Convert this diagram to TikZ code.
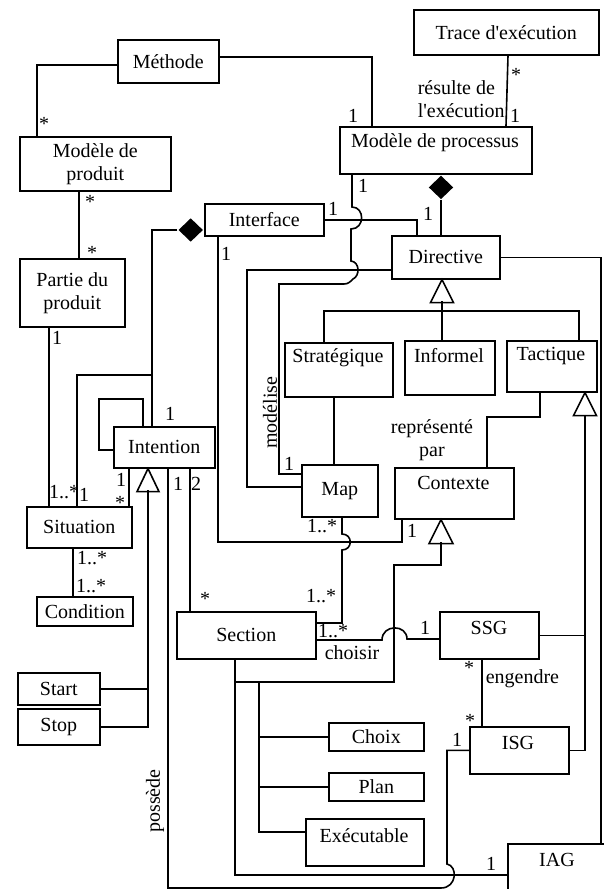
\documentclass[tikz,border=0pt]{standalone}
\usepackage{fontspec}
\setmainfont{Liberation Serif}
\usetikzlibrary{shapes.geometric}
\begin{document}
\begin{tikzpicture}[x=1pt,y=-1pt,
  font=\fontsize{20}{23}\selectfont,
  line width=1.6pt,
  box/.style={draw, inner sep=0pt, anchor=north west, align=center},
  txt/.style={inner sep=0pt, align=center},
  lab/.style={inner sep=0pt, anchor=base},
  gen/.style={draw, fill=white, line join=miter},
  comp/.style={diamond, fill=black, inner sep=0pt, minimum width=25pt, minimum height=24pt}]
\useasboundingbox (0,0) rectangle (603,889);

% boxes
\node[box, minimum width=101pt, minimum height=43pt] (meth) at (117,39) {Méthode};
\node[box, minimum width=185pt, minimum height=45pt] (trace) at (413,9) {Trace d\textquotesingle exécution};
\node[box, minimum width=151pt, minimum height=54pt] (mprod) at (19,136) {Modèle de\\produit};
\node[box, minimum width=192pt, minimum height=47pt] (mproc) at (339,126) {};
\node[txt] (mprocT) at (435,143) {Modèle de processus};
\node[box, minimum width=105pt, minimum height=68pt] (partie) at (19,258) {Partie du\\produit};
\node[box, minimum width=119pt, minimum height=32pt] (iface) at (204,203) {Interface};
\node[box, minimum width=108pt, minimum height=43pt] (direct) at (391,235) {Directive};
\node[box, minimum width=108pt, minimum height=54pt] (strat) at (284,342) {};
\node[txt] (stratT) at (338,358) {Stratégique};
\node[box, minimum width=90pt, minimum height=54pt] (infor) at (404,340) {};
\node[txt] (inforT) at (449,356) {Informel};
\node[box, minimum width=90pt, minimum height=51pt] (tact) at (506,340) {};
\node[txt] (tactT) at (551,356) {Tactique};
\node[box, minimum width=101pt, minimum height=41pt] (intent) at (113,426) {Intention};
\node[box, minimum width=105pt, minimum height=41pt] (situ) at (26,506) {Situation};
\node[box, minimum width=96pt, minimum height=29pt] (cond) at (36,596) {Condition};
\node[box, minimum width=76pt, minimum height=52pt] (map) at (301,464) {Map};
\node[box, minimum width=119pt, minimum height=51pt] (ctx) at (394,467) {};
\node[txt] (ctxT) at (453.5,483) {Contexte};
\node[box, minimum width=139pt, minimum height=47pt] (section) at (176,611) {Section};
\node[box, minimum width=99pt, minimum height=47pt] (ssg) at (439,611) {};
\node[txt] (ssgT) at (489,628) {SSG};
\node[box, minimum width=99pt, minimum height=47pt] (isg) at (469,726) {};
\node[txt] (isgT) at (518,743) {ISG};
\node[box, minimum width=95pt, minimum height=28pt] (choix) at (328,722) {Choix};
\node[box, minimum width=95pt, minimum height=28pt] (plan) at (328,772) {Plan};
\node[box, minimum width=118pt, minimum height=47pt] (exec) at (305,818) {};
\node[txt] (execT) at (364,836) {Exécutable};
\node[box, minimum width=82pt, minimum height=32pt] (start) at (17,672) {Start};
\node[box, minimum width=82pt, minimum height=36pt] (stop) at (17,708) {Stop};
\node[box, minimum width=110pt, minimum height=60pt] (iag) at (507,843) {};
\node[txt] (iagT) at (557,860) {IAG};

% Méthode associations
\draw (meth.west |- 0,65) -| (mprod.north -| 37,0);
\draw (meth.east |- 0,57) -| (mproc.north -| 372,0);
\draw (trace.south -| 508,0) -- (mproc.north -| 506,0);
\draw (mprod.south -| 79,0) -- (partie.north -| 79,0);

% composition Modèle de processus - Directive
\node[comp, anchor=north] (dm1) at (mproc.south -| 441,0) {};
\draw (dm1.south) -- (direct.north -| dm1.south);

% Interface - Directive
\draw (iface.east) -| (direct.north -| 417,0);

% composition Interface - Intention, Situation
\node[comp, anchor=east] (dm2) at (iface.west |- 0,230) {};
\draw (dm2.west) -| (intent.north -| 152,0);
\coordinate (j1) at (152,375);
\draw (j1) -| (situ.north -| 77,0);

% Partie du produit - Situation
\draw (partie.south -| 49,0) -- (situ.north -| 49,0);

% Intention self loop
\draw (intent.north -| 143,0) |- (99,399) |- (intent.west |- 0,450);

% Intention - Situation
\draw (intent.south -| 129,0) -- (situ.north -| 129,0);

% Intention generalisation (Start, Stop)
\draw[gen] (intent.south -| 148,0) -- ++(11,23) -- ++(-22,0) -- cycle;
\coordinate (t1b) at (148,490);
\draw (t1b) |- (stop.east);
\draw (start.east) -- (start.east -| t1b);

% possède : Intention - ISG
\draw (intent.south -| 168,0) -- (168,888) -- (441,888)
  .. controls (457,888) and (458,866) .. (447,864) -- (isg.west -| 447,0) -- (isg.west);

% Intention - Section
\draw (intent.south -| 190,0) -- (section.north -| 190,0);

% Situation - Condition
\draw (situ.south -| 73,0) -- (cond.north -| 73,0);

% Interface - Contexte
\draw (iface.south -| 218,0) |- (402,542) -- (ctx.south -| 402,0);

% Directive - Map
\draw (direct.west |- 0,270) -| (247,487) -- (map.west |- 0,487);

% modélise : Modèle de processus - Map
\draw (mproc.south -| 352,0) -- (352,207)
  .. controls (365,207) and (365,229) .. (351,229) -- (351,261)
  .. controls (360,262) and (360,276) .. (353,279)
  .. controls (350,282) and (348,284) .. (344,284) -- (279,284) |- (map.west |- 0,474);

% Directive generalisation
\draw[gen] (direct.south -| 442,0) -- ++(11.5,23) -- ++(-23,0) -- cycle;
\coordinate (t2b) at (442,301);
\draw (t2b) -- (infor.north -| t2b);
\draw (strat.north -| 324,0) |- (579,311) -- (tact.north -| 579,0);

% Stratégique - Map
\draw (strat.south -| 334,0) -- (map.north -| 334,0);

% représenté par : Tactique - Contexte
\draw (tact.south -| 540,0) |- (487,417) -- (ctx.north -| 487,0);

% Tactique generalisation (SSG, ISG)
\draw[gen] (tact.south -| 585,0) -- ++(11.5,23) -- ++(-23,0) -- cycle;
\coordinate (t3b) at (585,415);
\draw (t3b) |- (isg.east);
\draw (ssg.east) -- (ssg.east -| t3b);

% Directive - IAG
\draw (direct.east) -| (iag.north -| 601,0);

% Contexte generalisation (Choix, Plan, Exécutable)
\draw[gen] (ctx.south -| 441,0) -- ++(12,24) -- ++(-24,0) -- cycle;
\coordinate (t4b) at (441,542);
\draw (t4b) |- (394,565) -- (394,682) -- (235,682);
\coordinate (j2) at (259,682);
\draw (j2) |- (exec.west |- 0,832);
\draw (choix.west -| j2) -- (choix.west);
\draw (plan.west -| j2) -- (plan.west);

% Section - Map
\draw (section.east |- 0,623) -- (342,623) -- (342,550)
  .. controls (353,550) and (353,534) .. (342,534) -- (map.south -| 342,0);

% choisir : Section - SSG
\draw (section.east |- 0,640) -- (382,640)
  .. controls (382,624) and (407,624) .. (407,639) -- (ssg.west |- 0,639);

% engendre : SSG - ISG
\draw (ssg.south -| 482,0) -- (isg.north -| 482,0);

% Section - IAG
\draw (section.south -| 235,0) |- (iag.west |- 0,875);

% multiplicities
\node[lab] (m1) at (44,130.5) {*};
\node[lab] (m2) at (90,208.5) {*};
\node[lab] (m3) at (92,259.5) {*};
\node[lab] (m4) at (353,122) {1};
\node[lab] (m5) at (516,81.5) {*};
\node[lab] (m6) at (515,122) {1};
\node[lab] (m7) at (363,192) {1};
\node[lab] (m8) at (333,215) {1};
\node[lab] (m9) at (428,220) {1};
\node[lab] (m10) at (226,260) {1};
\node[lab] (m11) at (170,420) {1};
\node[lab] (m12) at (57,344) {1};
\node[lab] (m13) at (64,498) {1..*};
\node[lab] (m14) at (84,501) {1};
\node[lab] (m15) at (121,486) {1};
\node[lab] (m16) at (120,509.5) {*};
\node[lab] (m17) at (178,490) {1};
\node[lab] (m18) at (196,490) {2};
\node[lab] (m19) at (205,605.5) {*};
\node[lab] (m20) at (92,564) {1..*};
\node[lab] (m21) at (91,592) {1..*};
\node[lab] (m22) at (289,470) {1};
\node[lab] (m23) at (322,532) {1..*};
\node[lab] (m24) at (412,537) {1};
\node[lab] (m25) at (321,602) {1..*};
\node[lab] (m26) at (333,637) {1..*};
\node[lab] (m27) at (425,634) {1};
\node[lab] (m28) at (469,674.5) {*};
\node[lab] (m29) at (470,727.5) {*};
\node[lab] (m30) at (457,746) {1};
\node[lab] (m31) at (491,870) {1};

% role labels
\node[txt, anchor=west, align=left] (r1) at (417,99.5) {résulte de\\l\textquotesingle exécution};
\node[txt] (r2) at (432,440) {représenté\\par};
\node[txt] (r3) at (352,653) {choisir};
\node[txt, anchor=west] (r4) at (485,679) {engendre};
\node[txt, rotate=90] (r5) at (155,801) {possède};
\node[txt, rotate=90] (r6) at (270,412.5) {modélise};
\end{tikzpicture}
\end{document}
